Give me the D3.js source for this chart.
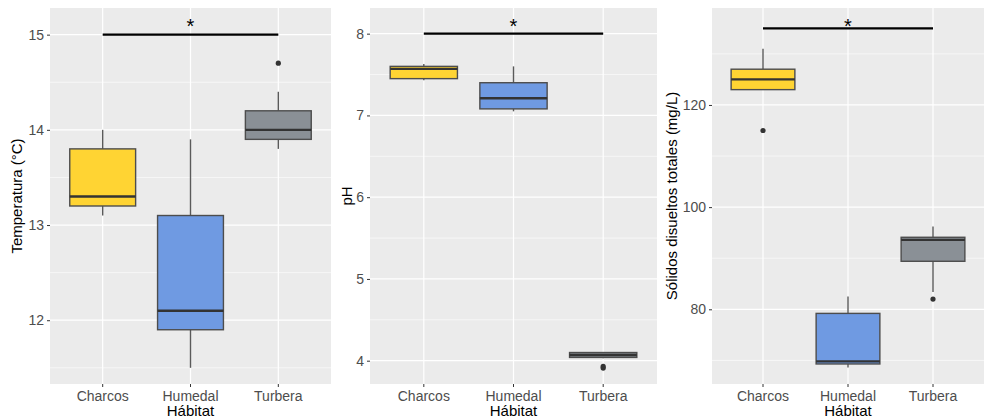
<!DOCTYPE html>
<html>
<head>
<meta charset="utf-8">
<script src="https://cdn.jsdelivr.net/npm/d3@7"></script>
<style>
  body { margin: 0; background: #fff; }
  text { font-family: "Liberation Sans", Arial, sans-serif; }
</style>
</head>
<body>
<div id="chart"></div>
<script>
// Data (min, q1, median, q3, max) per habitat
const categories = ['Charcos', 'Humedal', 'Turbera'];
const fillColors = ['#FFD433', '#6F9AE2', '#8A9096'];

const tempStats = [[13.1, 13.2, 13.3, 13.8, 14.0], [11.5, 11.9, 12.1, 13.1, 13.9], [13.8, 13.9, 14.0, 14.2, 14.4]];
const tempOutliers = [[], [], [14.7]];
const tempTicks = [12, 13, 14, 15];
const tempMinor = [11.5, 12.5, 13.5, 14.5];

const phStats = [[7.43, 7.45, 7.57, 7.6, 7.63], [7.05, 7.08, 7.21, 7.4, 7.6], [4.03, 4.04, 4.07, 4.1, 4.1]];
const phOutliers = [[], [], [3.91, 3.93]];
const phTicks = [4, 5, 6, 7, 8];
const phMinor = [4.5, 5.5, 6.5, 7.5];

const sdtStats = [[123, 123, 125, 127, 131], [68.6, 69.3, 69.8, 79.2, 82.5], [83.4, 89.4, 93.6, 94.1, 96.2]];
const sdtOutliers = [[115], [], [82]];
const sdtTicks = [80, 100, 120];
const sdtMinor = [70, 90, 110, 130];

// significance bar: value of line and of asterisk
const sigLines = [15, 8, 135];
const sigStars = [15.136, 8.147, 136.2];

const panels = [
  { title: 'Temperatura (°C)', stats: tempStats, outliers: tempOutliers, ticks: tempTicks, minor: tempMinor,
    domain: [11.33, 15.28], left: 50, right: 331, labelX: 22 },
  { title: 'pH', stats: phStats, outliers: phOutliers, ticks: phTicks, minor: phMinor,
    domain: [3.715, 8.314], left: 370, right: 657, labelX: 352 },
  { title: 'Sólidos disueltos totales (mg/L)', stats: sdtStats, outliers: sdtOutliers, ticks: sdtTicks, minor: sdtMinor,
    domain: [65.38, 138.98], left: 712, right: 984, labelX: 677 }
];

const W = 986, H = 419, plotTop = 8, plotBottom = 384;
const font = '"Liberation Sans", Arial, sans-serif';

const svg = d3.select('#chart').append('svg').attr('width', W).attr('height', H);

panels.forEach((p, pi) => {
  const g = svg.append('g');
  const x = d3.scaleBand().domain(categories).range([p.left, p.right]).paddingInner(0).paddingOuter(0.1);
  const bw = x.bandwidth();
  const cx = c => x(c) + bw / 2;
  const y = d3.scaleLinear().domain(p.domain).range([plotBottom, plotTop]);

  // panel background
  g.append('rect')
    .attr('x', p.left).attr('y', plotTop)
    .attr('width', p.right - p.left).attr('height', plotBottom - plotTop)
    .attr('fill', '#EBEBEB');

  // grid
  g.selectAll('.minor').data(p.minor).join('line')
    .attr('x1', p.left).attr('x2', p.right)
    .attr('y1', d => y(d)).attr('y2', d => y(d))
    .attr('stroke', '#fff').attr('stroke-width', 0.6);
  g.selectAll('.major').data(p.ticks).join('line')
    .attr('x1', p.left).attr('x2', p.right)
    .attr('y1', d => y(d)).attr('y2', d => y(d))
    .attr('stroke', '#fff').attr('stroke-width', 1.2);
  g.selectAll('.vgrid').data(categories).join('line')
    .attr('x1', cx).attr('x2', cx)
    .attr('y1', plotTop).attr('y2', plotBottom)
    .attr('stroke', '#fff').attr('stroke-width', 1.2);

  // y axis
  const yAxis = g.append('g')
    .attr('transform', 'translate(' + p.left + ',0)')
    .call(d3.axisLeft(y).tickValues(p.ticks).tickSize(3).tickPadding(3).tickFormat(d3.format('d')));
  yAxis.select('.domain').remove();
  yAxis.selectAll('line').attr('stroke', '#333');
  yAxis.selectAll('text').attr('fill', '#4D4D4D').attr('font-size', 14).style('font-family', font);

  // x axis
  const xAxis = g.append('g')
    .attr('transform', 'translate(0,' + plotBottom + ')')
    .call(d3.axisBottom(x).tickSize(3).tickPadding(4));
  xAxis.select('.domain').remove();
  xAxis.selectAll('line').attr('stroke', '#333');
  xAxis.selectAll('text').attr('fill', '#4D4D4D').attr('font-size', 14).style('font-family', font);

  // titles
  g.append('text')
    .attr('x', (p.left + p.right) / 2).attr('y', 416)
    .attr('text-anchor', 'middle').attr('font-size', 15).attr('fill', '#000')
    .text('Hábitat');
  g.append('text')
    .attr('transform', 'translate(' + p.labelX + ',' + (plotTop + plotBottom) / 2 + ') rotate(-90)')
    .attr('text-anchor', 'middle').attr('font-size', 15).attr('fill', '#000')
    .text(p.title);

  // boxes
  const boxW = bw * 0.75;
  p.stats.forEach((s, i) => {
    const xc = cx(categories[i]);
    const bx = g.append('g');
    bx.append('line')
      .attr('x1', xc).attr('x2', xc).attr('y1', y(s[4])).attr('y2', y(s[3]))
      .attr('stroke', '#5a5a5a').attr('stroke-width', 1.4);
    bx.append('line')
      .attr('x1', xc).attr('x2', xc).attr('y1', y(s[1])).attr('y2', y(s[0]))
      .attr('stroke', '#5a5a5a').attr('stroke-width', 1.4);
    bx.append('rect')
      .attr('x', xc - boxW / 2).attr('width', boxW)
      .attr('y', y(s[3])).attr('height', y(s[1]) - y(s[3]))
      .attr('fill', fillColors[i]).attr('stroke', '#4d4d4d').attr('stroke-width', 1.4);
    bx.append('line')
      .attr('x1', xc - boxW / 2).attr('x2', xc + boxW / 2)
      .attr('y1', y(s[2])).attr('y2', y(s[2]))
      .attr('stroke', '#333').attr('stroke-width', 2.4);
    bx.selectAll('circle').data(p.outliers[i]).join('circle')
      .attr('cx', xc).attr('cy', d => y(d)).attr('r', 2.6).attr('fill', '#333');
  });

  // significance bar
  g.append('line')
    .attr('x1', cx(categories[0])).attr('x2', cx(categories[2]))
    .attr('y1', y(sigLines[pi])).attr('y2', y(sigLines[pi]))
    .attr('stroke', '#000').attr('stroke-width', 2.4);
  g.append('text')
    .attr('x', cx(categories[1])).attr('y', y(sigStars[pi]) + 11)
    .attr('text-anchor', 'middle').attr('font-size', 20).attr('fill', '#000')
    .text('*');
});
</script>
</body>
</html>
